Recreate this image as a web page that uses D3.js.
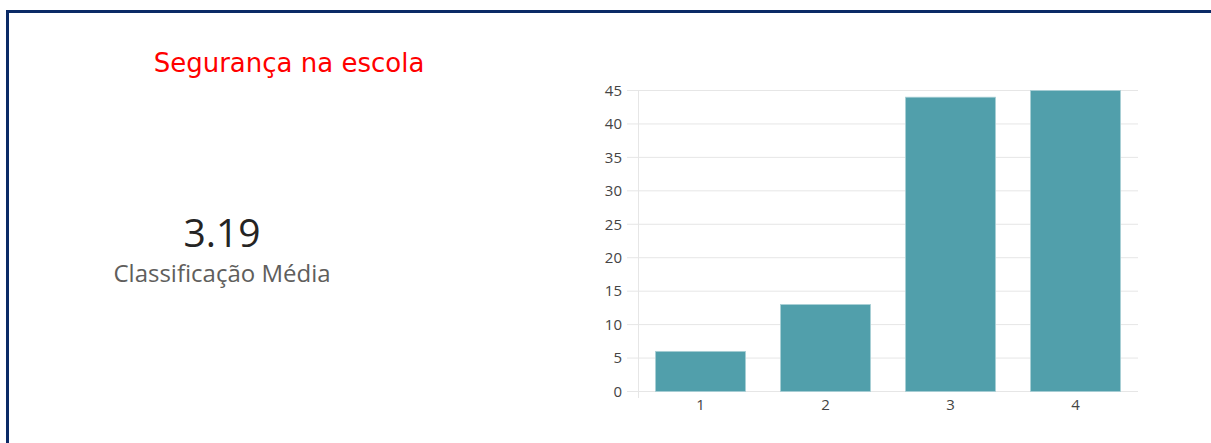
<!DOCTYPE html>
<html>
<head>
<meta charset="utf-8">
<script src="https://cdn.jsdelivr.net/npm/d3@7"></script>
<style>
	body { margin: 0; background: #fff; }
	svg { display: block; font-family: "Open Sans", sans-serif; }
</style>
</head>
<body>
<svg id="chart" width="1211" height="443"></svg>
<script>
'use strict';

// data
let categories = ["1", "2", "3", "4"];
let counts = [6, 13, 44, 45];
let yTicks = [0, 5, 10, 15, 20, 25, 30, 35, 40, 45];
let title = "Segurança na escola";
let average = "3.19";
let averageLabel = "Classificação Média";

let svg = d3.select("#chart");

// frame
svg.append("rect")
	.attr("x", 7.5).attr("y", 11.5)
	.attr("width", 1220).attr("height", 460)
	.attr("fill", "none")
	.attr("stroke", "#0b2a66")
	.attr("stroke-width", 3);

svg.append("text")
	.attr("x", 289).attr("y", 72)
	.attr("text-anchor", "middle")
	.attr("fill", "#ff0000")
	.style("font-family", "'DejaVu Sans', sans-serif")
	.style("font-size", "26px")
	.text(title);

svg.append("text")
	.attr("x", 222).attr("y", 247)
	.attr("text-anchor", "middle")
	.attr("fill", "#252423")
	.style("font-size", "39px")
	.text(average);

svg.append("text")
	.attr("x", 222).attr("y", 282)
	.attr("text-anchor", "middle")
	.attr("fill", "#605e5c")
	.style("font-size", "24px")
	.text(averageLabel);

let x = d3.scaleBand()
	.domain(categories)
	.range([638, 1138])
	.paddingInner(0.28)
	.paddingOuter(0.14);

let y = d3.scaleLinear()
	.domain([0, 45])
	.range([391.5, 90.5]);

// gridlines
svg.append("g")
	.selectAll("line")
	.data(yTicks)
	.enter()
	.append("line")
	.attr("x1", 627).attr("x2", 1138)
	.attr("y1", function(d){ return y(d); })
	.attr("y2", function(d){ return y(d); })
	.attr("stroke", "#e6e6e6");

svg.append("line")
	.attr("x1", 638.5).attr("x2", 638.5)
	.attr("y1", 90).attr("y2", 398)
	.attr("stroke", "#e6e6e6");

// y labels
let yAxis = svg.append("g")
	.attr("transform", "translate(622,0)")
	.call(d3.axisLeft(y).tickValues(yTicks).tickSize(0).tickPadding(0));
yAxis.select(".domain").remove();
yAxis.selectAll("text")
	.attr("fill", "#444")
	.style("font-size", "15px")
	.style("font-family", "'Open Sans', sans-serif");

// x labels
let xAxis = svg.append("g")
	.attr("transform", "translate(0,399)")
	.call(d3.axisBottom(x).tickSize(0).tickPadding(0));
xAxis.select(".domain").remove();
xAxis.selectAll("text")
	.attr("fill", "#444")
	.style("font-size", "15px")
	.style("font-family", "'Open Sans', sans-serif");

// bars
svg.append("g")
	.selectAll("rect")
	.data(counts)
	.enter()
	.append("rect")
	.attr("x", function(d, i){ return x(categories[i]); })
	.attr("y", function(d){ return y(d); })
	.attr("width", x.bandwidth())
	.attr("height", function(d){ return y(0) - y(d); })
	.attr("fill", "#519fab")
	.attr("stroke", "#a9cfd5")
	.attr("stroke-width", 0.8);
</script>
</body>
</html>
